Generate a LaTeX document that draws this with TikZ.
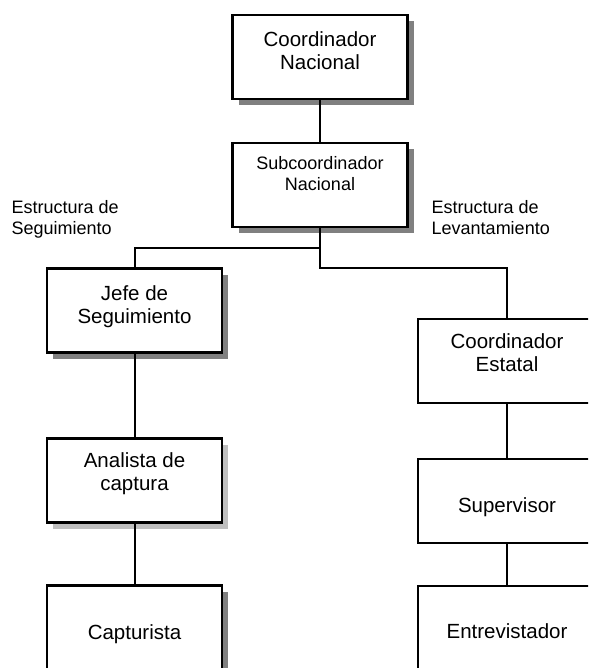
\documentclass[tikz,border=0pt]{standalone}
\usepackage{fontspec}
\setmainfont{Liberation Sans}
\usetikzlibrary{shadows}
\definecolor{shadowgray}{gray}{0.5}
\definecolor{shadelight}{gray}{0.75}
\tikzset{
  box/.style={draw,line width=2.2pt,fill=white,minimum width=175pt,minimum height=84pt,inner sep=0pt},
  shade/.style={drop shadow={shadow xshift=6pt,shadow yshift=-6pt,fill=#1,opacity=1}},
  txt/.style={anchor=north,inner sep=0pt,align=center,font=\fontsize{20.5}{23}\selectfont},
  small/.style={font=\fontsize{18}{21}\selectfont},
  conn/.style={line width=2pt,line join=miter}
}
\begin{document}
\begin{tikzpicture}[x=1pt,y=-1pt]
\useasboundingbox(0,0)rectangle(588,668);
\clip(0,0)rectangle(588,668);
\node[box,shade=shadowgray](cn)at(320,57){};
\node[box,shade=shadowgray](sc)at(320,185){};
\node[box,shade=shadowgray](jefe)at(134.5,310.5){};
\node[box,shade=shadelight](ana)at(134.5,480.5){};
\node[box,shade=shadowgray](cap)at(134.5,627.5){};
\node[box,minimum width=178pt](est)at(507,361){};
\node[box,minimum width=178pt](sup)at(507,501){};
\node[box,minimum width=178pt](ent)at(507,628){};
\coordinate(lj)at(320,248);
\coordinate(rj)at(320,268);
\foreach \a/\b in{cn/sc,jefe/ana,ana/cap,est/sup,sup/ent}
\draw[conn](\a.south)--(\b.north);
\draw[conn](sc.south)--(rj)-|(est.north);
\draw[conn](lj)-|(jefe.north);
\node[txt](cntxt)at(cn.north)[yshift=-18pt]{Coordinador\\Nacional};
\node[txt,small](sctxt)at(sc.north)[yshift=-14pt]{Subcoordinador\\Nacional};
\node[txt](jefetxt)at(jefe.north)[yshift=-18pt]{Jefe de\\Seguimiento};
\node[txt](anatxt)at(ana.north)[yshift=-15pt]{Analista de\\captura};
\node[txt](captxt)at(cap.north)[yshift=-40pt]{Capturista};
\node[txt](esttxt)at(est.north)[yshift=-16pt]{Coordinador\\Estatal};
\node[txt](suptxt)at(sup.north)[yshift=-40pt]{Supervisor};
\node[txt](enttxt)at(ent.north)[yshift=-39pt]{Entrevistador};
\node[txt,small,anchor=north west,align=left](seg)at(11.5,200){Estructura de\\Seguimiento};
\node[txt,small,anchor=north west,align=left](lev)at(431.5,200){Estructura de\\Levantamiento};
\end{tikzpicture}
\end{document}
